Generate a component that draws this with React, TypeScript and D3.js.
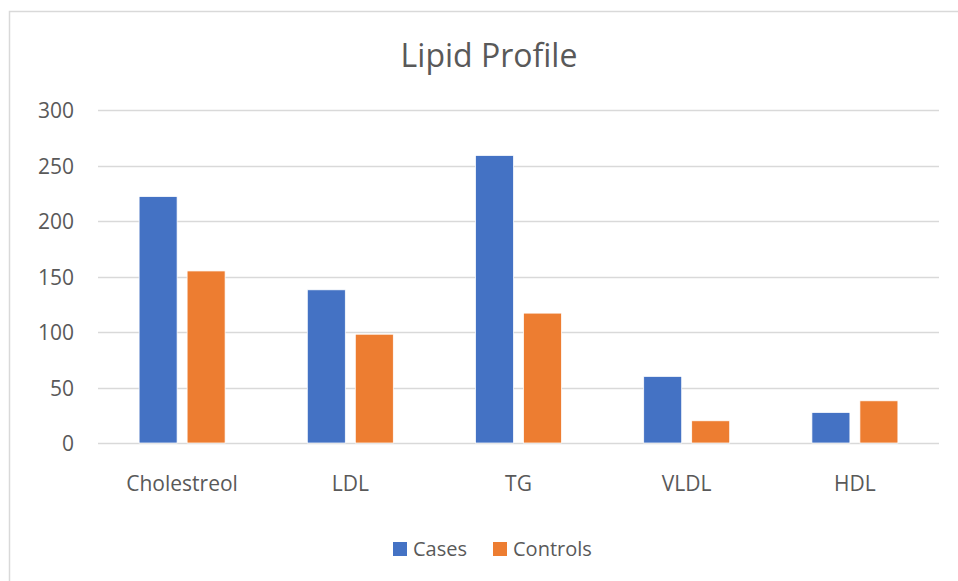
import React from "react";
import * as d3 from "d3";

const categories = ["Cholestreol", "LDL", "TG", "VLDL", "HDL"];
const cases = [222, 138, 259, 60, 27.5];
const controls = [155, 98, 117, 20, 38];
const seriesNames = ["Cases", "Controls"];
const seriesColors = ["#4472C4", "#ED7D31"];
const yTicks = [0, 50, 100, 150, 200, 250, 300];

export default function App() {
  const W = 958, H = 581;
  const left = 98, right = 939, top = 110, bottom = 443;
  const x = d3.scaleBand<string>().domain(categories).range([left, right]);
  const y = d3.scaleLinear().domain([0, 300]).range([bottom, top]);
  const barW = 38, gap = 10;
  const font = "'Open Sans', 'Liberation Sans', sans-serif";
  const series = [cases, controls];
  return (
    <svg width={W} height={H} style={{ position: "absolute", left: 0, top: 0 }} fontFamily={font}>
      <rect x={0} y={0} width={W} height={H} fill="#fff" />
      <rect x={9.5} y={11.5} width={W + 10} height={H + 10} fill="#fff" stroke="#d9d9d9" strokeWidth={1.5} />
      <text x={489} y={67} textAnchor="middle" fontSize={32} fill="#595959">Lipid Profile</text>
      {yTicks.map((t) => (
        <g key={t}>
          <line x1={left} x2={right} y1={Math.round(y(t)) + 0.5} y2={Math.round(y(t)) + 0.5} stroke="#d9d9d9" strokeWidth={1.5} />
          <text x={74} y={y(t) + 8} textAnchor="end" fontSize={21} fill="#595959">{t}</text>
        </g>
      ))}
      {categories.map((c, i) => {
        const cx = x(c)! + x.bandwidth() / 2;
        return (
          <g key={c}>
            {series.map((s, j) => {
              const bx = j === 0 ? cx - gap / 2 - barW : cx + gap / 2;
              return (
                <rect key={j} x={bx} y={y(s[i])} width={barW} height={y(0) - y(s[i])} fill={seriesColors[j]} stroke="#fff" strokeWidth={0.75} />
              );
            })}
            <text x={cx} y={491} textAnchor="middle" fontSize={21} fill="#595959">{c}</text>
          </g>
        );
      })}
      {seriesNames.map((n, j) => {
        const lx = j === 0 ? 393 : 493;
        return (
          <g key={n}>
            <rect x={lx} y={542} width={14} height={14} fill={seriesColors[j]} />
            <text x={lx + 20} y={556} fontSize={20} fill="#595959">{n}</text>
          </g>
        );
      })}
    </svg>
  );
}
